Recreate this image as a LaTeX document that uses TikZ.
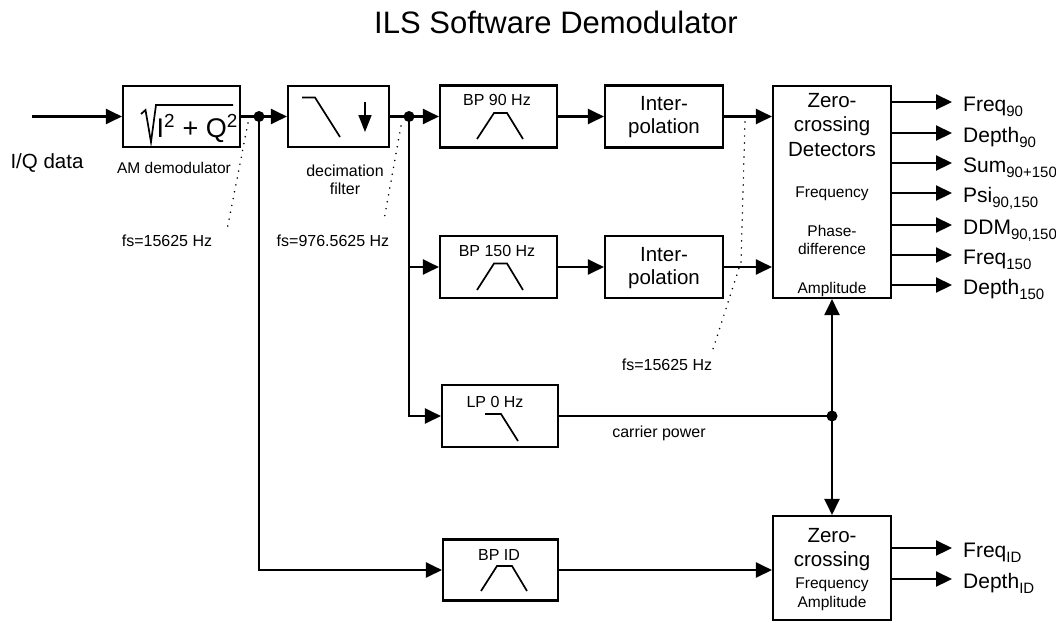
\documentclass[tikz,border=0pt]{standalone}
\usepackage{fontspec}
\setmainfont{Liberation Sans}
\usetikzlibrary{arrows.meta}
\newcommand\sbs[1]{\raisebox{-5pt}{\fontsize{15}{15}\selectfont #1}}
\begin{document}
\begin{tikzpicture}[x=1pt,y=-1pt,
  box/.style={draw,line width=2.1pt,inner sep=0pt},
  conn/.style={line width=2.1pt},
  arr/.style={conn,-{Triangle[length=16pt,width=15pt]}},
  sym/.style={line width=1.7pt},
  leader/.style={line width=1.7pt,dash pattern=on 0pt off 7pt,line cap=round},
  big/.style={font=\fontsize{20.5}{24}\selectfont,inner sep=0pt,anchor=base},
  mid/.style={font=\fontsize{16}{18}\selectfont,inner sep=0pt,anchor=base},
  sml/.style={font=\fontsize{15.5}{17}\selectfont,inner sep=0pt,anchor=base},
  outl/.style={font=\fontsize{21}{24}\selectfont,inner sep=0pt,anchor=base west},
  jdot/.style={circle,fill,inner sep=0pt,minimum size=11pt}
]
\fill[white] (0,0) rectangle (1056,622);
\useasboundingbox (0,0) rectangle (1056,622);

% title
\node[font=\fontsize{31}{34}\selectfont,inner sep=0pt,anchor=base] (title) at (556,33) {ILS Software Demodulator};

% boxes
\node[box,minimum width=117pt,minimum height=61pt] (am) at (181.5,116.5) {};
\node[box,minimum width=101pt,minimum height=61pt] (dec) at (338.5,116.5) {};
\node[box,minimum width=117pt,minimum height=62pt] (bp90) at (498.5,116.5) {};
\node[box,minimum width=118pt,minimum height=62pt] (ip1) at (664,116.5) {};
\node[box,minimum width=117pt,minimum height=62pt] (bp150) at (498.5,267) {};
\node[box,minimum width=118pt,minimum height=62pt] (ip2) at (664,267) {};
\node[box,minimum width=118pt,minimum height=212pt] (zc) at (832,192) {};
\node[box,minimum width=116pt,minimum height=62pt] (lp) at (500,416) {};
\node[box,minimum width=115pt,minimum height=61pt] (bpid) at (500.5,570) {};
\node[box,minimum width=118pt,minimum height=104pt] (zid) at (832,568) {};

% AM box content
\draw[line width=1.7pt] (141,114) -- (145.5,110) -- (151,142) -- (156,105) -- (233,105);
\node[font=\fontsize{27}{30}\selectfont,inner sep=0pt,anchor=base west] (amtxt) at (156.5,137) {I\textsuperscript{2} + Q\textsuperscript{2}};
\node[sml] (amlab) at (174,173) {AM demodulator};
\node[big] (iq) at (47,168) {I/Q data};

% decimation content
\draw[sym] (302,97.5) -- (315,97.5) -- (340,137);
\draw[sym,-{Triangle[length=17pt,width=13pt]}] (365,101.5) -- (365,132);
\node[mid] (decl1) at (345,176) {decimation};
\node[mid] (decl2) at (345,194) {filter};

% BP 90
\node[mid] (bp90l) at (497,105) {BP 90 Hz};
\draw[sym] (477,139) -- (494,113) -- (507,113) -- (523,139);
% BP 150
\node[mid] (bp150l) at (497,256) {BP 150 Hz};
\draw[sym] (477,290) -- (494,263.5) -- (507,263.5) -- (523,290);
% LP
\node[mid] (lpl) at (495,407.5) {LP 0 Hz};
\draw[sym] (485,414) -- (501,414) -- (518,441);
% BP ID
\node[mid] (bpidl) at (499,560) {BP ID};
\draw[sym] (481,591) -- (497,566) -- (512,566) -- (527,591);

% interpolation
\node[big] (ip1a) at (664,110) {Inter-};
\node[big] (ip1b) at (664,133) {polation};
\node[big] (ip2a) at (664,261) {Inter-};
\node[big] (ip2b) at (664,284) {polation};

% zero crossing detectors
\node[big] (zc1) at (832,107) {Zero-};
\node[big] (zc2) at (832,131.5) {crossing};
\node[big] (zc3) at (832,156) {Detectors};
\node[sml] (zc4) at (832,197) {Frequency};
\node[sml] (zc5) at (832,236) {Phase-};
\node[sml] (zc6) at (832,254) {difference};
\node[sml] (zc7) at (832,293) {Amplitude};

\node[big] (zi1) at (832,542) {Zero-};
\node[big] (zi2) at (832,566.5) {crossing};
\node[sml] (zi3) at (832,588) {Frequency};
\node[sml] (zi4) at (832,607) {Amplitude};

% junctions
\coordinate (j1) at (259,116.5);
\coordinate (j2) at (409,116.5);
\coordinate (j3) at (832,416);
\coordinate (in) at (32,116.5);

% connectors
\draw[arr] (in) -- (am.west);
\draw[conn] (am.east) -- (j1);
\draw[arr] (j1) -- (dec.west);
\draw[arr] (j1) |- (bpid.west);
\draw[conn] (dec.east) -- (j2);
\draw[arr] (j2) -- (bp90.west);
\draw[arr] (j2) |- (lp.west);
\draw[arr] (j2 |- bp150.west) -- (bp150.west);
\draw[arr] (bp90.east) -- (ip1.west);
\draw[arr] (bp150.east) -- (ip2.west);
\draw[arr] (ip1.east) -- (zc.west |- ip1.east);
\draw[arr] (ip2.east) -- (zc.west |- ip2.east);
\draw[conn] (lp.east) -- (j3);
\draw[arr] (j3) -- (zc.south);
\draw[arr] (j3) -- (zid.north);
\draw[arr] (bpid.east) -- (zid.west |- bpid.east);

\node[jdot] (d1) at (j1) {};
\node[jdot] (d2) at (j2) {};
\node[jdot] (d3) at (j3) {};

% outputs
\coordinate (o1) at (952,102);
\coordinate (o2) at (952,133);
\coordinate (o3) at (952,163);
\coordinate (o4) at (952,193);
\coordinate (o5) at (952,225);
\coordinate (o6) at (952,255);
\coordinate (o7) at (952,285);
\coordinate (o8) at (952,548);
\coordinate (o9) at (952,579);
\foreach \o in {o1,o2,o3,o4,o5,o6,o7}{\draw[arr] (zc.east |- \o) -- (\o);}
\foreach \o in {o8,o9}{\draw[arr] (zid.east |- \o) -- (\o);}
\node[outl] (t1) at (963,111) {Freq\sbs{90}};
\node[outl] (t2) at (963,142) {Depth\sbs{90}};
\node[outl] (t3) at (963,172) {Sum\sbs{90+150}};
\node[outl] (t4) at (963,202) {Psi\sbs{90,150}};
\node[outl] (t5) at (963,234) {DDM\sbs{90,150}};
\node[outl] (t6) at (963,264) {Freq\sbs{150}};
\node[outl] (t7) at (963,294) {Depth\sbs{150}};
\node[outl] (t8) at (963,557) {Freq\sbs{ID}};
\node[outl] (t9) at (963,588) {Depth\sbs{ID}};

% sample-rate annotations
\draw[leader] (248,123) -- (227,230);
\draw[leader] (401,126) -- (384,220);
\draw[leader] (745,122) -- (741,262) -- (713,349);
\node[mid] (fs1) at (167,246) {fs=15625 Hz};
\node[mid] (fs2) at (333,246) {fs=976.5625 Hz};
\node[mid] (fs3) at (667,370) {fs=15625 Hz};
\node[mid] (cp) at (659,437.5) {carrier power};
\end{tikzpicture}
\end{document}
